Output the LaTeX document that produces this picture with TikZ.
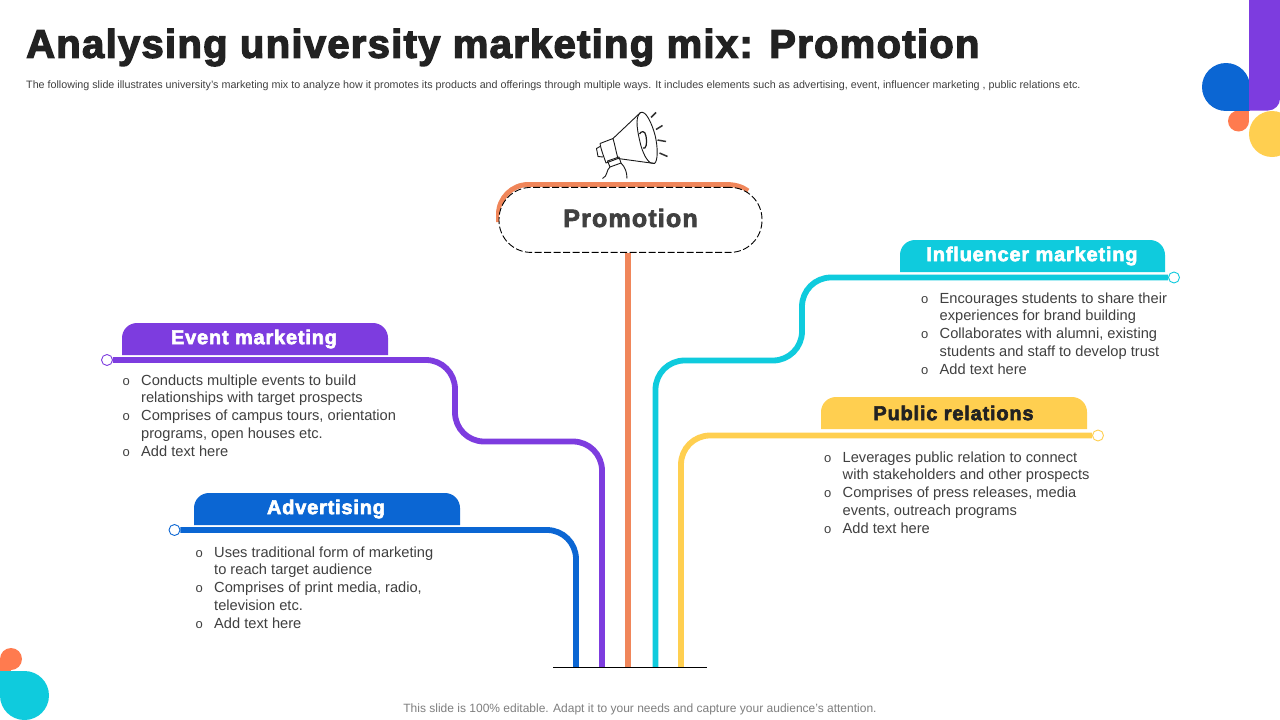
\documentclass[tikz,border=0pt]{standalone}
\usepackage{fontspec}
\setmainfont{Liberation Sans}
\newfontfamily\heavyfont[FakeBold=3,LetterSpace=4]{Liberation Sans Bold}
\newfontfamily\promofont[FakeBold=3,LetterSpace=4.7]{Liberation Sans Bold}
\newfontfamily\titlefont[FakeBold=3.2,LetterSpace=3.2]{Liberation Sans Bold}
\definecolor{cpurple}{HTML}{7D3CDF}
\definecolor{cblue}{HTML}{0B66D3}
\definecolor{corange}{HTML}{FF7B4F}
\definecolor{corangeline}{HTML}{F0865A}
\definecolor{cyellow}{HTML}{FFCF50}
\definecolor{ccyan}{HTML}{0FCBDD}
\definecolor{ctext}{HTML}{404040}
\definecolor{ctitle}{HTML}{222222}
\definecolor{cgrey}{HTML}{7F7F7F}
\newcommand{\bl}{\makebox[18.5pt][l]{\fontsize{13}{13}\selectfont o}}
\newcommand{\nb}{\hspace*{18.5pt}}
\tikzset{
  branch/.style={line width=5.8pt,rounded corners=29pt},
  enddot/.style={circle,draw=#1,fill=white,line width=0.9pt,minimum size=11pt,inner sep=0pt},
  tablabel/.style={inner sep=0pt,font=\fontsize{20}{22}\selectfont\heavyfont},
  body/.style={anchor=west,align=left,inner sep=0pt,text=ctext,font=\fontsize{14.65}{17.75}\selectfont},
  mega/.style={line width=0.9pt,draw=black!90,line join=round},
  ray/.style={line width=1.5pt,draw=black!80}
}
\newcommand{\tabshape}[5]{% colour, x1, x2, ytop, ybottom
  \fill[#1] (#2,#5) [rounded corners=15pt] -- (#2,#4) -- (#3,#4) [sharp corners] -- (#3,#5) -- cycle;}
\begin{document}
\begin{tikzpicture}[x=1pt,y=-1pt]
\useasboundingbox (0,0) rectangle (1280,720);
\fill[white] (0,0) rectangle (1280,720);

% corner decoration, top right
\fill[cyellow] (1272,134) circle (23);
\fill[corange] (1238.5,121) circle (10.5);
\fill[corange] (1238.5,111) rectangle (1249,121);
\fill[cblue] (1226,87) circle (24);
\fill[cblue] (1226,87) rectangle (1250,111);
\fill[cpurple] (1249,0) -- (1280,0) [rounded corners=12pt] -- (1280,110.5) [sharp corners] -- (1249,110.5) -- cycle;

% corner decoration, bottom left
\fill[corange] (11,659) circle (11);
\fill[corange] (0,659) rectangle (11,672);
\fill[ccyan] (24.5,695.5) circle (24.5);
\fill[ccyan] (0,671) rectangle (24.5,695.5);

% title
\node[anchor=west,inner sep=0pt,text=ctitle,font=\fontsize{40}{44}\selectfont\titlefont] (title) at (26,47.5) {Analysing university marketing mix: Promotion};
\node[anchor=west,inner sep=0pt,text=ctext,font=\fontsize{10.73}{12}\selectfont] (subtitle) at (26,85.5) {The following slide illustrates university's marketing mix to analyze how it promotes its products and offerings through multiple ways. It includes elements such as advertising, event, influencer marketing , public relations etc.};
\node[inner sep=0pt,text=cgrey,font=\fontsize{12}{14}\selectfont] (footer) at (640,709.3) {This slide is 100\% editable. Adapt it to your needs and capture your audience's attention.};

% megaphone
\draw[mega] (613,138.5) -- (640.5,112.5) .. controls (646,110) and (652,124) .. (655,135) .. controls (658,147) and (658,161) .. (654.5,163.5) -- (618,158.5);
\draw[mega] (640.5,112.5) .. controls (634,117) and (638,134) .. (641,146) .. controls (644,156) and (649,165) .. (654.5,163.5);
\draw[mega,line width=1.2pt] (639.5,134) .. controls (641,131) and (645,130) .. (646,136) .. controls (647.5,143) and (646,150) .. (643,148);
\draw[mega] (600,143.5) -- (613,138.5) .. controls (615,145) and (616,152) .. (618,158.5) -- (606,163) .. controls (604,157) and (601,150) .. (600,143.5);
\draw[mega] (600,146.5) -- (596.5,148.5) -- (598,156.5) -- (603,157);
\draw[mega] (607.5,161) -- (619,157) -- (621,163) -- (610,167) -- cycle;
\draw[mega] (610,167) .. controls (606,170) and (608,176) .. (602.5,178.5);
\draw[mega] (621,163) .. controls (625,167) and (627,172) .. (627,178.5);
\draw[ray] (651,117.5) -- (656,112.5);
\draw[ray] (656,129.5) -- (662.5,125.5);
\draw[ray] (657.5,140) -- (666,141.5);
\draw[ray] (659.5,153) -- (667.5,156.5);

% end dots and bends
\node[enddot=cpurple] (evdot) at (107,360) {};
\node[enddot=cblue] (addot) at (174.5,530) {};
\node[enddot=ccyan] (indot) at (1174,277.5) {};
\node[enddot=cyellow] (prdot) at (1098,435.5) {};
\coordinate (e1) at (455,360);
\coordinate (e2) at (455,441.5);
\coordinate (e3) at (602,441.5);
\coordinate (e4) at (602,667);
\coordinate (a1) at (576,530);
\coordinate (a2) at (576,667);
\coordinate (i1) at (802,277.5);
\coordinate (i2) at (802,360.5);
\coordinate (i3) at (655.5,360.5);
\coordinate (i4) at (655.5,667);
\coordinate (p1) at (681,435.5);
\coordinate (p2) at (681,667);
\coordinate (o1) at (628,667);
\coordinate (baseL) at (553,667);
\coordinate (baseR) at (707,667);
\coordinate (arcA) at (498.5,222);
\coordinate (arcB) at (498.5,184.5);
\coordinate (arcC) at (725,184.5);
\coordinate (arcD) at (748,191);

% promotion arc behind the box
\draw[corangeline,line width=5pt] (arcA) [rounded corners=30pt] -- (arcB) [sharp corners] -- (arcC) .. controls (735,184.5) and (742,186.5) .. (arcD);
\node[draw=black,fill=white,line width=0.9pt,dash pattern=on 7pt off 2.5pt,rounded corners=32pt,minimum width=263pt,minimum height=65pt,inner sep=0pt] (promo) at (630.5,219.9) {};
\node[inner sep=0pt,text=ctext,font=\fontsize{25}{28}\selectfont\promofont] (promolabel) at (630.5,218) {Promotion};

% branches
\draw[corangeline,line width=6pt] (promo.south -| o1) -- (o1);
\draw[branch,cpurple] (evdot) -- (e1) -- (e2) -- (e3) -- (e4);
\draw[branch,cblue] (addot) -- (a1) -- (a2);
\draw[branch,ccyan] (indot) -- (i1) -- (i2) -- (i3) -- (i4);
\draw[branch,cyellow] (prdot) -- (p1) -- (p2);
\draw[black,line width=0.9pt] (baseL) -- (baseR);

% tabs
\tabshape{cpurple}{122}{388}{323}{355}
\tabshape{cblue}{194}{460}{493}{525}
\tabshape{ccyan}{900}{1165}{240}{272}
\tabshape{cyellow}{821}{1087}{397}{429}
\node[tablabel,text=white] (evlabel) at (254,339) {Event marketing};
\node[tablabel,text=white] (adlabel) at (326,509) {Advertising};
\node[tablabel,text=white] (inlabel) at (1032,256) {Influencer marketing};
\node[tablabel,text=ctitle] (prlabel) at (953.5,413) {Public relations};

% lists
\node[body] (evtext) at (122.5,415.5) {\bl Conducts multiple events to build\\\nb relationships with target prospects\\\bl Comprises of campus tours, orientation\\\nb programs, open houses etc.\\\bl Add text here};
\node[body] (adtext) at (195.5,587.5) {\bl Uses traditional form of marketing\\\nb to reach target audience\\\bl Comprises of print media, radio,\\\nb television etc.\\\bl Add text here};
\node[body] (intext) at (921,333.5) {\bl Encourages students to share their\\\nb experiences for brand building\\\bl Collaborates with alumni, existing\\\nb students and staff to develop trust\\\bl Add text here};
\node[body] (prtext) at (824,492.5) {\bl Leverages public relation to connect\\\nb with stakeholders and other prospects\\\bl Comprises of press releases, media\\\nb events, outreach programs\\\bl Add text here};
\end{tikzpicture}
\end{document}
